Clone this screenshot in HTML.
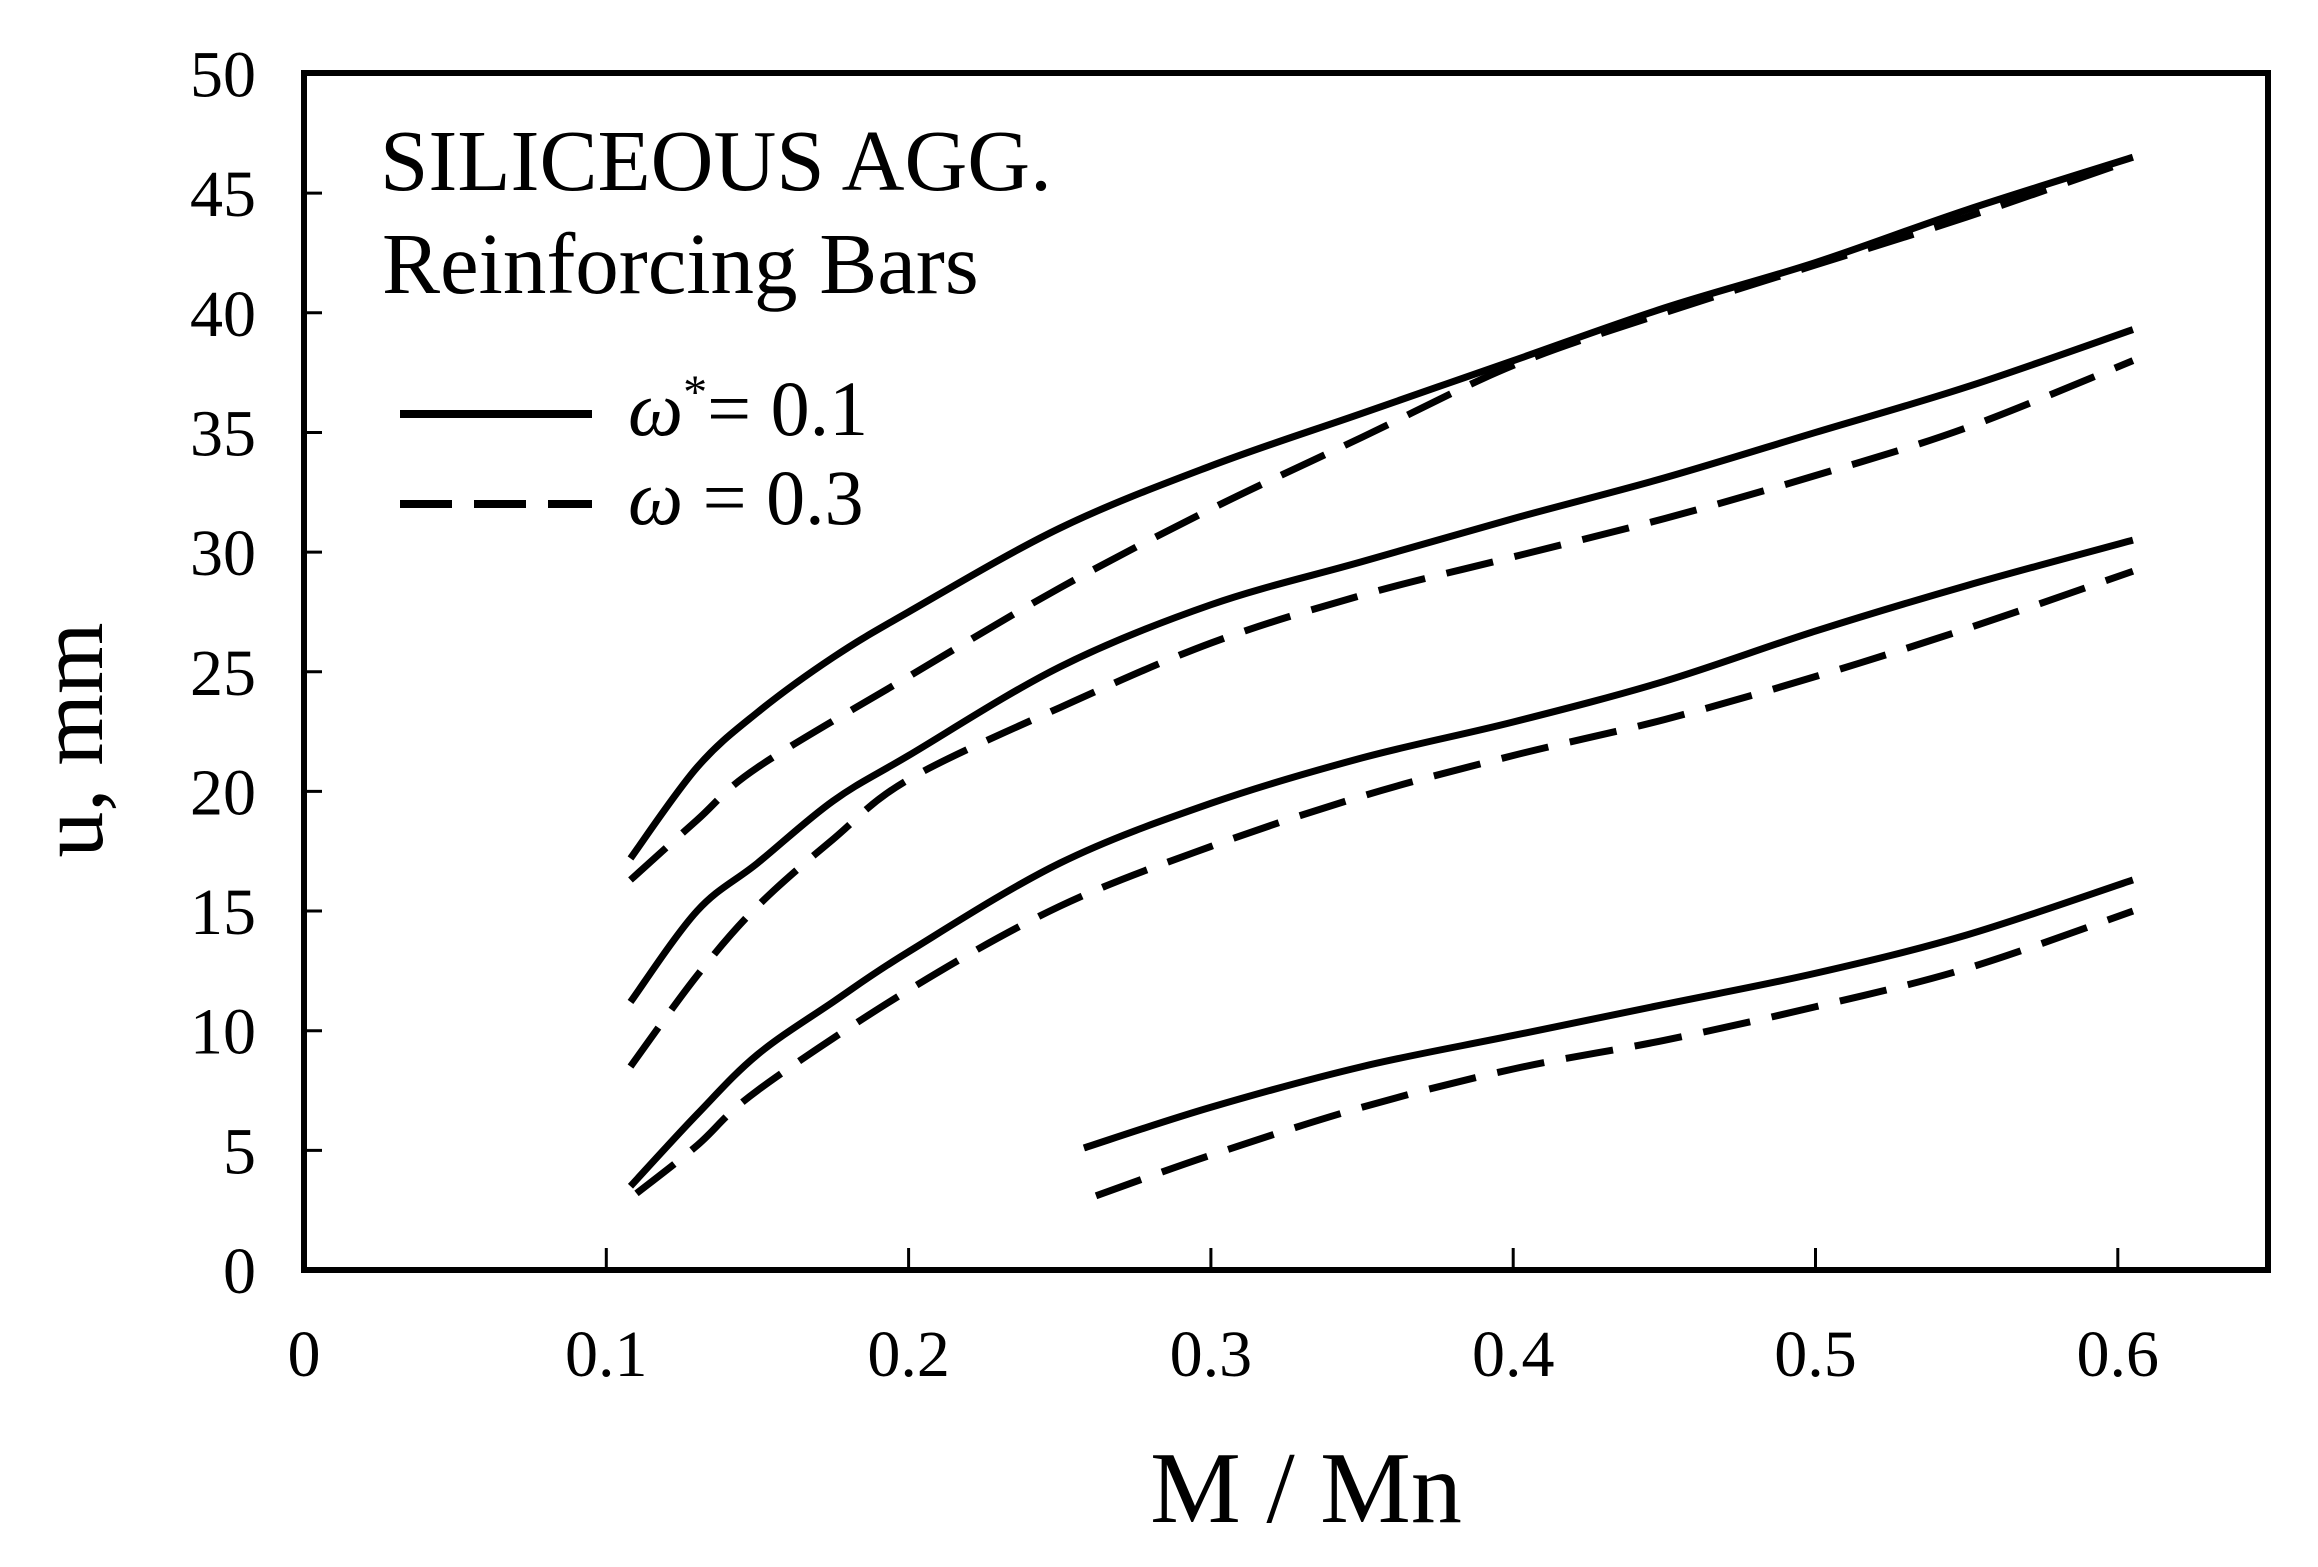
<!DOCTYPE html>
<html><head><meta charset="utf-8"><style>
html,body{margin:0;padding:0;background:#fff;}
svg{display:block;}
text{font-family:"Liberation Serif",serif;fill:#000;}
</style></head><body>
<svg id="chart" width="2318" height="1567" viewBox="0 0 2318 1567" xmlns="http://www.w3.org/2000/svg">
<g id="axes"></g>
<g id="series"></g>
<text x="380" y="190" font-size="87">SILICEOUS AGG.</text>
<text x="382" y="293" font-size="87">Reinforcing Bars</text>
<g>
<line x1="400" y1="414" x2="592" y2="414" stroke="#000" stroke-width="8"/>
<text x="628" y="435" font-size="78"><tspan font-style="italic">ω</tspan><tspan dy="-27" font-size="48">*</tspan><tspan dy="27">= 0.1</tspan></text>
<line x1="400" y1="504" x2="592" y2="504" stroke="#000" stroke-width="8" stroke-dasharray="52 22"/>
<text x="628" y="524" font-size="78"><tspan font-style="italic">ω</tspan> = 0.3</text>
</g>
<text transform="translate(102,740) rotate(-90)" text-anchor="middle" font-size="92">u, mm</text>
<text x="1306" y="1522" text-anchor="middle" font-size="102">M / Mn</text>
</svg>
<script>
const xTicks = [0, 0.1, 0.2, 0.3, 0.4, 0.5, 0.6];
const xTickLabels = ["0", "0.1", "0.2", "0.3", "0.4", "0.5", "0.6"];
const yTicks = [0, 5, 10, 15, 20, 25, 30, 35, 40, 45, 50];
const yTickLabels = ["0", "5", "10", "15", "20", "25", "30", "35", "40", "45", "50"];

const s1x = [0.108,0.13,0.15,0.175,0.2,0.25,0.3,0.35,0.4,0.45,0.5,0.55,0.605];
const s1y = [17.2,21,23.3,25.6,27.5,31,33.6,35.8,38,40.2,42.1,44.3,46.5];
const d1x = [0.108,0.13,0.15,0.2,0.25,0.3,0.35,0.4,0.45,0.5,0.55,0.605];
const d1y = [16.3,18.8,21,24.8,28.5,31.8,34.8,37.8,40,42,44,46.4];
const s2x = [0.108,0.13,0.15,0.175,0.2,0.25,0.3,0.35,0.4,0.45,0.5,0.55,0.605];
const s2y = [11.2,15,17,19.6,21.5,25.2,27.8,29.6,31.4,33.1,35,36.9,39.3];
const d2x = [0.108,0.13,0.15,0.175,0.2,0.25,0.3,0.35,0.4,0.45,0.5,0.55,0.605];
const d2y = [8.5,12.3,15.2,18,20.5,23.5,26.2,28.2,29.8,31.4,33.2,35.2,38];
const s3x = [0.108,0.13,0.15,0.175,0.2,0.25,0.3,0.35,0.4,0.45,0.5,0.55,0.605];
const s3y = [3.5,6.5,9,11.2,13.3,17,19.5,21.4,22.9,24.6,26.7,28.6,30.5];
const d3x = [0.11,0.13,0.15,0.2,0.25,0.3,0.35,0.4,0.45,0.5,0.55,0.605];
const d3y = [3.2,5.2,7.5,11.7,15.2,17.7,19.8,21.5,23,24.8,26.8,29.2];
const s4x = [0.258,0.3,0.35,0.4,0.45,0.5,0.55,0.605];
const s4y = [5.1,6.8,8.5,9.8,11.1,12.4,14,16.3];
const d4x = [0.262,0.3,0.35,0.4,0.45,0.5,0.55,0.605];
const d4y = [3.1,4.8,6.8,8.4,9.6,11,12.6,15];

const NS = "http://www.w3.org/2000/svg";
const X0 = 304, XS = 3023, Y0 = 1270, YS = 23.93;
const L = 304, R = 2268, T = 73, B = 1270;
function sx(v){ return X0 + v * XS; }
function sy(v){ return Y0 - v * YS; }
function mk(tag, attrs, parent){
  const e = document.createElementNS(NS, tag);
  for (const k in attrs) e.setAttribute(k, attrs[k]);
  parent.appendChild(e);
  return e;
}
const axes = document.getElementById('axes');
const frame = mk('rect', {x:L, y:T, width:R-L, height:B-T, fill:'none', stroke:'#000', 'stroke-width':6}, axes);


xTicks.forEach((v, i) => {
  const t = mk('line', {x1:sx(v), x2:sx(v), y1:B, y2:B-22, stroke:'#000', 'stroke-width':3}, axes);
  
  
  const lb = mk('text', {x:sx(v), y:1376, 'text-anchor':'middle', 'font-size':66}, axes);
  lb.textContent = xTickLabels[i];
  
  
});
yTicks.forEach((v, i) => {
  if (v > 0 && v < 50) {
    const t = mk('line', {x1:L, x2:L+18, y1:sy(v), y2:sy(v), stroke:'#000', 'stroke-width':3}, axes);
    
    
  }
  const lb = mk('text', {x:256, y:sy(v)+23, 'text-anchor':'end', 'font-size':66}, axes);
  lb.textContent = yTickLabels[i];
  
  
});
function smoothPath(xs, ys){
  const p = xs.map((x, i) => [sx(x), sy(ys[i])]);
  let d = 'M' + p[0][0] + ',' + p[0][1];
  for (let i = 0; i < p.length - 1; i++) {
    const p0 = p[Math.max(0, i-1)], p1 = p[i], p2 = p[i+1], p3 = p[Math.min(p.length-1, i+2)];
    const c1x = p1[0] + (p2[0]-p0[0])/6, c1y = p1[1] + (p2[1]-p0[1])/6;
    const c2x = p2[0] - (p3[0]-p1[0])/6, c2y = p2[1] - (p3[1]-p1[1])/6;
    d += ' C' + c1x + ',' + c1y + ' ' + c2x + ',' + c2y + ' ' + p2[0] + ',' + p2[1];
  }
  return d;
}
const seriesG = document.getElementById('series');
const list = [
  [s1x, s1y, false, 'solid-curve-1'], [d1x, d1y, true, 'dashed-curve-1'],
  [s2x, s2y, false, 'solid-curve-2'], [d2x, d2y, true, 'dashed-curve-2'],
  [s3x, s3y, false, 'solid-curve-3'], [d3x, d3y, true, 'dashed-curve-3'],
  [s4x, s4y, false, 'solid-curve-4'], [d4x, d4y, true, 'dashed-curve-4']
];
list.forEach(s => {
  const attrs = {d: smoothPath(s[0], s[1]), fill:'none', stroke:'#000', 'stroke-width':7, 'stroke-linejoin':'round'};
  if (s[2]) attrs['stroke-dasharray'] = '48 22';
  const p = mk('path', attrs, seriesG);
  
  
});
</script>
</body></html>
